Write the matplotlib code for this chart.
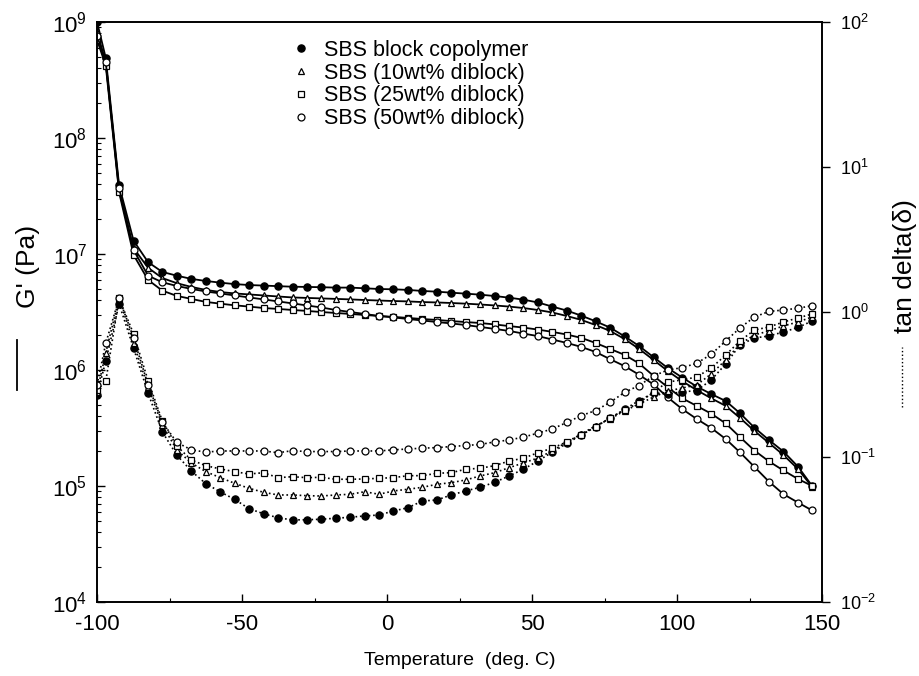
import numpy as np
import matplotlib
matplotlib.use('Agg')
import matplotlib.pyplot as plt
from matplotlib.lines import Line2D
from matplotlib.ticker import FixedLocator, FuncFormatter, LogLocator, MultipleLocator, NullLocator

plt.rcParams['font.family'] = ['Liberation Sans', 'DejaVu Sans']
plt.rcParams['mathtext.default'] = 'regular'
plt.rcParams['axes.unicode_minus'] = False

# temperature sweep (deg. C)
temp = [-100, -97, -92.4, -87.4, -82.4, -77.5, -72.5, -67.5, -62.5, -57.5,
        -52.6, -47.6, -42.6, -37.6, -32.6, -27.7, -22.7, -17.7, -12.7, -7.7,
        -2.8, 2.2, 7.2, 12.2, 17.2, 22.1, 27.1, 32.1, 37.1, 42.1,
        47.0, 52.0, 57.0, 62.0, 67.0, 71.9, 76.9, 81.9, 86.9, 91.9,
        96.8, 101.8, 106.8, 111.8, 116.8, 121.7, 126.7, 131.7, 136.7, 141.7,
        146.6]

# storage modulus G' (Pa)
gp_sbs = [1.0e9, 4.9e8, 3.9e7, 1.3e7, 8.5e6, 7.0e6, 6.5e6, 6.1e6, 5.85e6, 5.66e6,
          5.5e6, 5.4e6, 5.34e6, 5.28e6, 5.22e6, 5.2e6, 5.17e6, 5.13e6, 5.13e6, 5.06e6,
          4.99e6, 4.96e6, 4.9e6, 4.8e6, 4.73e6, 4.64e6, 4.55e6, 4.46e6, 4.34e6, 4.2e6,
          4.04e6, 3.82e6, 3.52e6, 3.25e6, 2.94e6, 2.63e6, 2.32e6, 1.95e6, 1.61e6, 1.29e6,
          1.04e6, 8.6e5, 7.2e5, 6.2e5, 5.4e5, 4.24e5, 3.18e5, 2.49e5, 1.98e5, 1.47e5,
          1.0e5]
gp_10 = [8.2e8, 4.5e8, 3.5e7, 1.12e7, 7.6e6, 6.2e6, 5.6e6, 5.2e6, 4.9e6, 4.7e6,
         4.57e6, 4.48e6, 4.39e6, 4.3e6, 4.22e6, 4.18e6, 4.14e6, 4.1e6, 4.06e6, 4.01e6,
         3.97e6, 3.93e6, 3.9e6, 3.85e6, 3.82e6, 3.78e6, 3.73e6, 3.67e6, 3.6e6, 3.52e6,
         3.42e6, 3.29e6, 3.13e6, 2.92e6, 2.7e6, 2.44e6, 2.17e6, 1.85e6, 1.52e6, 1.22e6,
         9.8e5, 8.0e5, 6.7e5, 5.7e5, 4.9e5, 3.86e5, 2.98e5, 2.35e5, 1.85e5, 1.4e5,
         9.8e4]
gp_25 = [7.0e8, 4.2e8, 3.4e7, 9.8e6, 5.97e6, 4.83e6, 4.35e6, 4.1e6, 3.86e6, 3.73e6,
         3.61e6, 3.52e6, 3.42e6, 3.36e6, 3.29e6, 3.23e6, 3.16e6, 3.1e6, 3.04e6, 2.98e6,
         2.92e6, 2.87e6, 2.81e6, 2.75e6, 2.7e6, 2.64e6, 2.59e6, 2.54e6, 2.47e6, 2.39e6,
         2.32e6, 2.23e6, 2.13e6, 2.02e6, 1.89e6, 1.71e6, 1.52e6, 1.35e6, 1.14e6, 8.9e5,
         7.1e5, 5.7e5, 4.9e5, 4.2e5, 3.46e5, 2.64e5, 2.02e5, 1.63e5, 1.36e5, 1.15e5,
         1.0e5]
gp_50 = [7.6e8, 4.5e8, 3.7e7, 1.08e7, 6.5e6, 5.7e6, 5.3e6, 5.0e6, 4.75e6, 4.57e6,
         4.39e6, 4.22e6, 4.06e6, 3.9e6, 3.75e6, 3.6e6, 3.46e6, 3.29e6, 3.16e6, 3.04e6,
         2.92e6, 2.84e6, 2.75e6, 2.67e6, 2.59e6, 2.52e6, 2.44e6, 2.35e6, 2.26e6, 2.17e6,
         2.06e6, 1.96e6, 1.83e6, 1.71e6, 1.58e6, 1.43e6, 1.24e6, 1.08e6, 9.1e5, 7.5e5,
         5.8e5, 4.6e5, 3.78e5, 3.16e5, 2.54e5, 1.95e5, 1.46e5, 1.09e5, 8.5e4, 7.2e4,
         6.15e4]

# loss tangent tan(delta)
tan_sbs = [0.268, 0.459, 1.136, 0.562, 0.275, 0.149, 0.103, 0.080, 0.0655, 0.0574,
           0.0511, 0.0440, 0.0406, 0.0381, 0.0368, 0.0369, 0.0372, 0.0378, 0.0384, 0.0392,
           0.0398, 0.0424, 0.0447, 0.0497, 0.0505, 0.0547, 0.0583, 0.0618, 0.0669, 0.0740,
           0.0823, 0.0938, 0.108, 0.124, 0.142, 0.162, 0.185, 0.213, 0.245, 0.276,
           0.272, 0.281, 0.287, 0.340, 0.438, 0.592, 0.662, 0.683, 0.728, 0.782,
           0.867]
tan_10 = [0.281, 0.522, 1.243, 0.608, 0.302, 0.166, 0.112, 0.0909, 0.0792, 0.0720,
          0.0659, 0.0608, 0.0571, 0.0547, 0.0547, 0.0541, 0.0538, 0.0547, 0.0553, 0.0576,
          0.0553, 0.0583, 0.0599, 0.0618, 0.0648, 0.0665, 0.0694, 0.0740, 0.0779, 0.0844,
          0.0909, 0.0984, 0.110, 0.127, 0.144, 0.164, 0.183, 0.208, 0.232, 0.259,
          0.285, 0.299, 0.314, 0.374, 0.467, 0.600, 0.694, 0.740, 0.801, 0.853,
          0.924]
tan_25 = [0.290, 0.333, 1.243, 0.705, 0.336, 0.177, 0.119, 0.0953, 0.0871, 0.0827,
          0.0792, 0.0763, 0.0779, 0.0720, 0.0731, 0.0720, 0.0724, 0.0702, 0.0702, 0.0705,
          0.0713, 0.0720, 0.0743, 0.0743, 0.0772, 0.0779, 0.0823, 0.0836, 0.0871, 0.0938,
          0.0980, 0.107, 0.115, 0.127, 0.142, 0.161, 0.186, 0.211, 0.236, 0.281,
          0.329, 0.340, 0.356, 0.411, 0.505, 0.631, 0.751, 0.788, 0.853, 0.909,
          0.969]
tan_50 = [0.314, 0.608, 1.243, 0.662, 0.314, 0.174, 0.126, 0.112, 0.108, 0.110,
          0.110, 0.110, 0.110, 0.107, 0.1105, 0.109, 0.109, 0.109, 0.110, 0.110,
          0.110, 0.112, 0.1135, 0.115, 0.116, 0.118, 0.120, 0.122, 0.127, 0.131,
          0.137, 0.146, 0.156, 0.173, 0.193, 0.209, 0.238, 0.279, 0.311, 0.362,
          0.398, 0.413, 0.443, 0.511, 0.631, 0.776, 0.924, 1.008, 1.032, 1.061,
          1.105]

labels = ['SBS block copolymer', 'SBS (10wt% diblock)',
          'SBS (25wt% diblock)', 'SBS (50wt% diblock)']
gp_all = [gp_sbs, gp_10, gp_25, gp_50]
tan_all = [tan_sbs, tan_10, tan_25, tan_50]

# marker, face colour, size
styles = [('o', 'black', 5.2),
          ('^', 'white', 4.2),
          ('s', 'white', 4.6),
          ('o', 'white', 5.0)]

fig = plt.figure(figsize=(9.2, 6.76), dpi=100)
ax = fig.add_axes([0.1055, 0.1095, 0.788, 0.858])
ax2 = ax.twinx()

for g, t, (mk, fc, ms) in zip(gp_all, tan_all, styles):
    ax.plot(temp, g, '-', color='black', lw=1.3, marker=mk, ms=ms,
            mfc=fc, mec='black', mew=0.9)
    ax2.plot(temp, t, ':', color='black', lw=1.2, marker=mk, ms=ms,
             mfc=fc, mec='black', mew=0.9)

sci = FuncFormatter(lambda v, pos: r'$\mathregular{10^{%d}}$' % int(round(np.log10(v))))

ax.set_xlim(-100, 150)
ax.set_yscale('log')
ax.set_ylim(1e4, 1e9)
ax.xaxis.set_major_locator(MultipleLocator(50))
ax.xaxis.set_minor_locator(MultipleLocator(25))
ax.yaxis.set_major_locator(LogLocator(base=10, numticks=10))
ax.yaxis.set_minor_locator(LogLocator(base=10, subs=np.arange(2, 10), numticks=20))
ax.yaxis.set_major_formatter(sci)
ax.tick_params(axis='both', which='major', direction='in', length=6, width=1,
               labelsize=16, pad=7)
ax.tick_params(axis='both', which='minor', direction='in', length=3, width=0.8)
ax.tick_params(axis='x', which='major', pad=9)

ax2.set_yscale('log')
ax2.set_ylim(1e-2, 1e2)
ax2.yaxis.set_major_locator(FixedLocator([1e-2, 1e-1, 1e0, 1e1, 1e2]))
ax2.yaxis.set_minor_locator(NullLocator())
ax2.yaxis.set_major_formatter(sci)
ax2.tick_params(axis='y', which='major', direction='out', length=6, width=1,
                labelsize=13, pad=7)

for a in (ax, ax2):
    for sp in a.spines.values():
        sp.set_linewidth(1.2)

ax.set_xlabel('Temperature  (deg. C)', fontsize=14, labelpad=12)

# axis titles with line-style keys
ax.text(-0.095, 0.579, "G' (Pa)", rotation=90, ha='center', va='center',
        fontsize=19, transform=ax.transAxes)
ax.plot([-0.110, -0.110], [0.366, 0.452], '-', color='black', lw=1.3,
        transform=ax.transAxes, clip_on=False)
ax2.text(1.115, 0.579, u'tan delta(\u03b4)', rotation=90, ha='center', va='center',
         fontsize=19, transform=ax2.transAxes)
ax2.plot([1.111, 1.111], [0.336, 0.440], ':', color='black', lw=1.0,
         transform=ax2.transAxes, clip_on=False)

handles = [Line2D([], [], ls='none', marker=mk, ms=ms, mfc=fc, mec='black', mew=0.9)
           for mk, fc, ms in styles]
ax2.legend(handles, labels, loc='upper left', bbox_to_anchor=(0.245, 0.995),
           frameon=False, fontsize=15.5, handlelength=1.0, handletextpad=0.6,
           labelspacing=0.08, borderpad=0.2)

fig.savefig('out.png', dpi=100)
